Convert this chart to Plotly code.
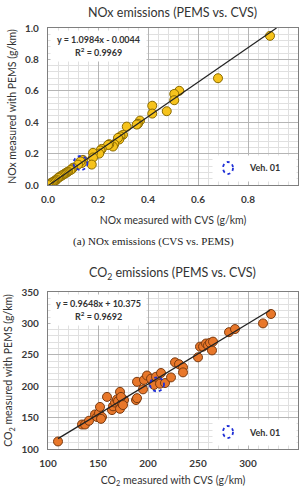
import plotly.graph_objects as go

# ---------------- data ----------------
nox_cvs = [0.888, 0.68, 0.525, 0.505, 0.505, 0.475, 0.417, 0.417, 0.368, 0.36, 0.355, 0.315,
           0.30, 0.29, 0.285, 0.28, 0.265, 0.26, 0.245, 0.24, 0.215, 0.21, 0.205, 0.18, 0.18,
           0.175, 0.14, 0.135, 0.13, 0.12, 0.10, 0.095, 0.09, 0.08, 0.075, 0.07, 0.065, 0.06,
           0.055, 0.05, 0.045, 0.04, 0.035, 0.03, 0.025, 0.02, 0.015, 0.01, 0.005, 0.0]
nox_pems = [0.95, 0.68, 0.60, 0.58, 0.54, 0.47, 0.505, 0.455, 0.41, 0.39, 0.385, 0.372,
            0.32, 0.31, 0.29, 0.30, 0.26, 0.245, 0.26, 0.255, 0.23, 0.22, 0.20, 0.205, 0.175,
            0.13, 0.16, 0.14, 0.15, 0.13, 0.11, 0.10, 0.095, 0.085, 0.08, 0.075, 0.07, 0.065,
            0.06, 0.055, 0.05, 0.045, 0.035, 0.03, 0.025, 0.02, 0.015, 0.01, 0.005, 0.0]
nox_fit = [1.0984, -0.0044]
nox_fit_x = [0.0, 0.914]
nox_veh01 = [0.13, 0.14]

co2_cvs = [110, 134, 137, 141, 147, 149, 151, 152, 154, 153, 159, 164, 165, 167, 169, 170,
           172, 172, 174, 176, 173, 175, 188, 189, 189, 195, 196, 199, 203, 206, 208, 212,
           213, 217, 223, 227, 231, 235, 235, 250, 252, 255, 258, 260, 262, 264, 265, 281,
           287, 315, 323]
co2_pems = [112, 139, 139, 145, 155, 151, 157, 167, 151, 148, 183, 162, 168, 174, 179, 176,
            191, 164, 172, 178, 183, 170, 178, 181, 207, 195, 210, 217, 212, 202, 215, 204,
            221, 205, 214, 238, 235, 230, 222, 246, 263, 263, 268, 265, 269, 257, 271, 286,
            291, 300, 315]
co2_fit = [0.9648, 10.375]
co2_fit_x = [110, 322]
co2_veh01 = [209, 203]

nox_ticks = [0.0, 0.2, 0.4, 0.6, 0.8, 1.0]
co2_ticks = [100, 150, 200, 250, 300, 350]

# ---------------- layout helpers ----------------
W, H = 305, 488
FONT = "Lato"
XD = [48 / W, 298 / W]
Y1 = [1 - 185 / H, 1 - 28 / H]
Y2 = [1 - 449 / H, 1 - 292 / H]

fig = go.Figure()

def add_panel(xs, ys, fit, fit_x, color, line_color, xa, ya):
    fig.add_trace(go.Scatter(
        x=xs, y=ys, mode="markers", xaxis=xa, yaxis=ya, showlegend=False,
        marker=dict(size=9, color=color, line=dict(color=line_color, width=1))))
    fx = fit_x
    fy = [fit[0] * v + fit[1] for v in fx]
    fig.add_trace(go.Scatter(x=fx, y=fy, mode="lines", xaxis=xa, yaxis=ya,
                             showlegend=False, line=dict(color="#222222", width=1.3)))

add_panel(nox_cvs, nox_pems, nox_fit, nox_fit_x, "#F6C31C", "#8A6A00", "x", "y")
add_panel(co2_cvs, co2_pems, co2_fit, co2_fit_x, "#E8772A", "#7A3A10", "x2", "y2")

def axis_common(ticks, labels, minor, rng, domain, anchor, title, is_x):
    return dict(
        domain=domain, anchor=anchor, range=rng, tickvals=ticks,
        ticktext=labels, showgrid=True, gridcolor="#b5b5b5", gridwidth=1,
        minor=dict(dtick=minor, showgrid=True, gridcolor="#e0e0e0", gridwidth=1, ticks=""),
        showline=True, linecolor="#7f7f7f", linewidth=1.2, mirror=True, zeroline=False,
        ticks="", tickfont=dict(family=FONT, size=10, color="#3a3a3a", weight="bold"),
        ticklabelstandoff=5 if is_x else 6,
        title=dict(text=title, font=dict(family=FONT, size=10.5, color="#333333"),
                   standoff=12 if is_x else 6),
        fixedrange=True, automargin=False,
    )

nox_labels = [f"{t:.1f}" for t in nox_ticks]
co2_labels = [str(t) for t in co2_ticks]

fig.update_layout(
    width=W, height=H, margin=dict(l=0, r=0, t=0, b=0, autoexpand=False),
    paper_bgcolor="white", plot_bgcolor="white",
    xaxis=axis_common(nox_ticks, nox_labels, 0.04, [0, 1.0], XD, "y", "NOx measured with CVS (g/km)", True),
    yaxis=axis_common(nox_ticks, nox_labels, 0.04, [0, 1.0], Y1, "x", "NOx measured with PEMS (g/km)", False),
    xaxis2=axis_common(co2_ticks, co2_labels, 10, [100, 350], XD, "y2", "CO<sub>2</sub> measured with CVS (g/km)", True),
    yaxis2=axis_common(co2_ticks, co2_labels, 10, [100, 350], Y2, "x2", "CO<sub>2</sub> measured with PEMS (g/km)", False),
    font=dict(family=FONT, color="#333333"),
)

shapes = []
annots = []

def px_x(p):
    return p / W

def px_y(p):
    return 1 - p / H

def note(x, y, text, size=9, weight="bold", family=FONT, color="#333333"):
    annots.append(dict(xref="paper", yref="paper", x=px_x(x), y=px_y(y),
                       xanchor="center", yanchor="middle", text=text, showarrow=False,
                       font=dict(family=family, size=size, color=color, weight=weight)))

def panel_extras(top_px, r2, veh, xref, yref, eqtxt):
    # equation box
    shapes.append(dict(type="rect", xref="paper", yref="paper",
                       x0=px_x(51), x1=px_x(146), y0=px_y(top_px + 33), y1=px_y(top_px + 3),
                       fillcolor="white", line=dict(color="white", width=1), layer="above"))
    note(98, top_px + 11, eqtxt)
    note(98, top_px + 24, f"R<sup>2</sup> = {r2}")
    # legend box
    shapes.append(dict(type="rect", xref="paper", yref="paper",
                       x0=px_x(213), x1=px_x(296), y0=px_y(top_px + 153), y1=px_y(top_px + 128),
                       fillcolor="white", line=dict(color="white", width=1), layer="above"))
    shapes.append(dict(type="circle", xref="paper", yref="paper",
                       x0=px_x(223), x1=px_x(233), y0=px_y(top_px + 146), y1=px_y(top_px + 134),
                       line=dict(color="#1f2fd6", width=1.8, dash="dot"), layer="above"))
    note(264, top_px + 140, "Veh. 01")
    # Veh 01 marker circle in data
    shapes.append(dict(type="circle", xref=xref, yref=yref, xsizemode="pixel", ysizemode="pixel",
                       xanchor=veh[0], yanchor=veh[1], x0=-7, x1=7, y0=-7, y1=7,
                       line=dict(color="#1f2fd6", width=1.8, dash="dot"), layer="above"))

panel_extras(28, "0.9969", nox_veh01, "x", "y", "y = 1.0984x - 0.0044")
panel_extras(292, "0.9692", co2_veh01, "x2", "y2", "y = 0.9648x + 10.375")

note(172, 12, "NOx emissions (PEMS vs. CVS)", size=12.5, weight="normal")
note(172, 273, "CO<sub>2</sub> emissions (PEMS vs. CVS)", size=12.5, weight="normal")
note(153, 241, "(a) NOx emissions (CVS vs. PEMS)", size=11, weight="normal",
     family="Liberation Serif", color="#222222")

fig.update_layout(shapes=shapes, annotations=annots)
fig.write_html("out.html")
